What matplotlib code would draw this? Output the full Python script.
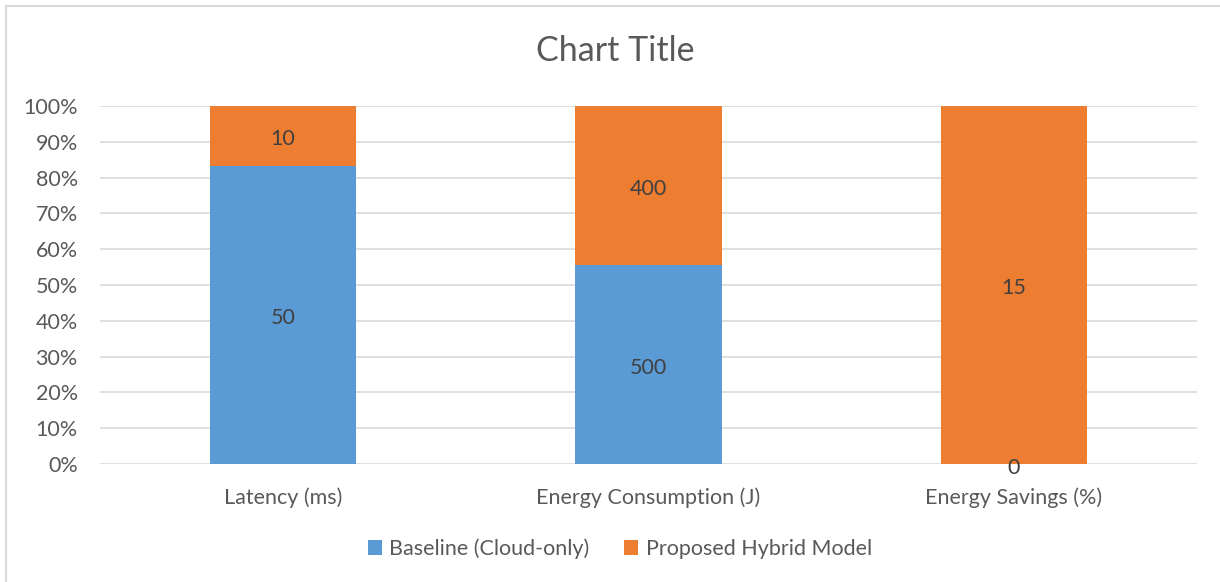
import matplotlib.pyplot as plt
from matplotlib.patches import Rectangle
from matplotlib.ticker import PercentFormatter
import numpy as np

categories = ['Latency (ms)', 'Energy Consumption (J)', 'Energy Savings (%)']
baseline = [50, 500, 0]
hybrid = [10, 400, 15]
series_names = ['Baseline (Cloud-only)', 'Proposed Hybrid Model']

blue = '#5B9BD5'
orange = '#ED7D31'
text_col = '#595959'
grid_col = '#D9D9D9'

plt.rcParams['font.family'] = ['Lato', 'DejaVu Sans']

base = np.array(baseline, dtype=float)
hyb = np.array(hybrid, dtype=float)
total = base + hyb
base_pct = base / total * 100
hyb_pct = hyb / total * 100

fig = plt.figure(figsize=(12.2, 5.82), dpi=100)
ax = fig.add_axes([0.082, 0.2027, 0.899, 0.6152])

x = np.arange(len(categories))
width = 0.4
b1 = ax.bar(x, base_pct, width, color=blue, label=series_names[0], zorder=2)
b2 = ax.bar(x, hyb_pct, width, bottom=base_pct, color=orange,
            label=series_names[1], zorder=2)

for bars, vals in [(b1, baseline), (b2, hybrid)]:
    anns = ax.bar_label(bars, labels=[str(v) for v in vals], label_type='center',
                        fontsize=15.5, color='#404040')
    for a in anns:
        a.xyann = (0, -2.5)

ax.set_xlim(-0.5, len(categories) - 0.5)
ax.set_ylim(0, 100)
ax.set_yticks(np.arange(0, 101, 10))
ax.yaxis.set_major_formatter(PercentFormatter(decimals=0))
ax.set_xticks(x)
ax.set_xticklabels(categories)
ax.tick_params(axis='both', length=0, labelsize=15.5, labelcolor=text_col)
ax.tick_params(axis='x', pad=17)
ax.tick_params(axis='y', pad=16)
ax.grid(True, axis='y', color=grid_col, linewidth=1.2, zorder=0)
for s in ax.spines.values():
    s.set_visible(False)

fig.text(0.504, 0.912, 'Chart Title', ha='center', va='center',
         fontsize=24.5, color=text_col)

leg = fig.legend(loc='center', bbox_to_anchor=(0.508, 0.057), ncol=2,
                 frameon=False, fontsize=15.5, handlelength=0.65,
                 handleheight=0.65, handletextpad=0.35, columnspacing=1.6)
for t in leg.get_texts():
    t.set_color(text_col)

fig.patches.append(Rectangle((6 / 1220, -0.1), 1.2, 1 - 6 / 582 + 0.1,
                             transform=fig.transFigure, fill=False,
                             edgecolor=grid_col, linewidth=1.5))

fig.savefig('out.png', dpi=100)
